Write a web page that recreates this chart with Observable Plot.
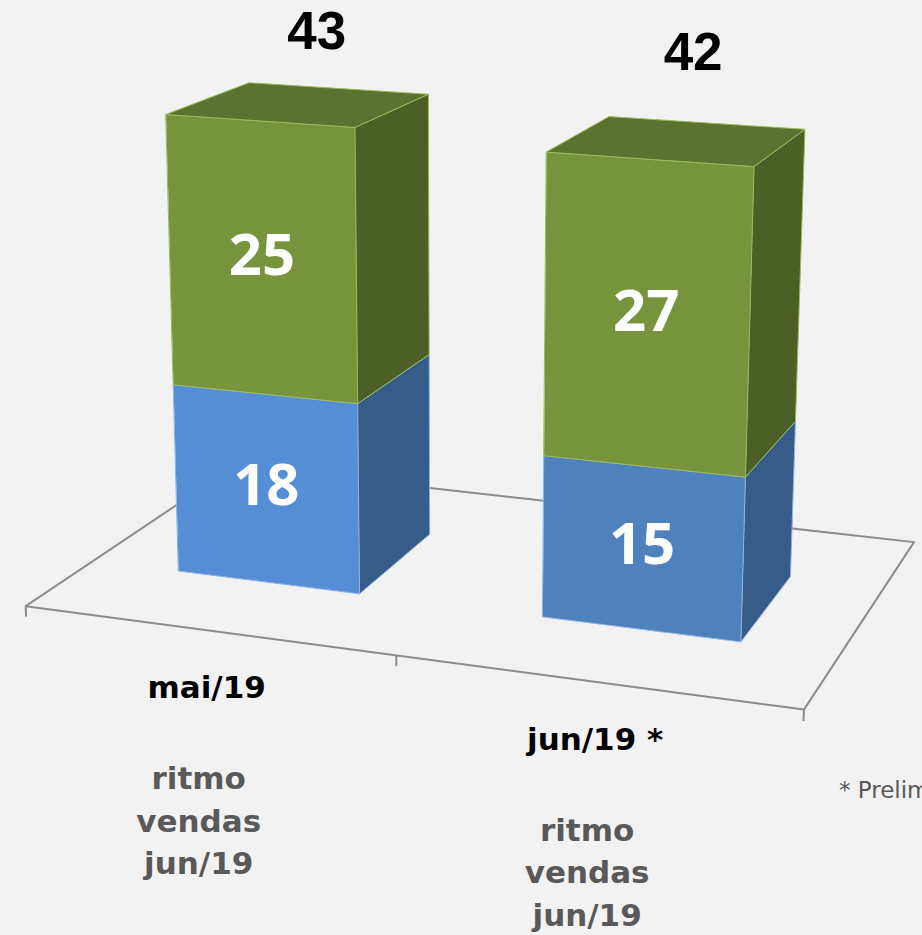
<!DOCTYPE html>
<html><head><meta charset="utf-8">
<script src="https://cdn.jsdelivr.net/npm/d3@7"></script>
<script src="https://cdn.jsdelivr.net/npm/@observablehq/plot@0.6"></script>
<style>body{margin:0;background:#f2f2f2;}</style>
</head><body><div id="chart"></div>
<script>
// ---- data ----
const categories = ["mai/19", "jun/19 *"];
const subLabels = ["ritmo\nvendas\njun/19", "ritmo\nvendas\njun/19"];
const blueValues = [18, 15];
const greenValues = [25, 27];
const totals = [43, 42];
const footnote = "* Preliminar";

// ---- 3D layout (world: X = category axis, Y = value, Z = depth) ----
const barWidth = 0.508, barZ0 = 0.295, barZ1 = 0.695, floorDepth = 1;
// camera (perspective) matrix: homogeneous screen = CAM · [X, Y, Z, 1]
const CAM = [
  [352.5385, -0.4748911, 246.3599, 25.18945],
  [19.42113, -11.11780, -65.47847, 605.6698],
  [-0.04553750, -0.001032869, 0.1601402, 1]
];
function project(X, Y, Z) {
  const h = CAM.map(r => r[0] * X + r[1] * Y + r[2] * Z + r[3]);
  return [h[0] / h[2], h[1] / h[2]];
}

// ---- styles ----
const blueFront = ["#558ed5", "#4f81bd"];
const style = {
  blue: {side: "#375c89", top: "#4a77b0", edge: "#8db3e2"},
  green: {front: "#77933c", side: "#4b5f27", top: "#5c7230", edge: "#9bbb59"}
};

// ---- build faces ----
const faces = [];
let fid = 0;
function face(pts, fill, stroke) {
  fid++;
  for (const q of pts) { const [u, v] = project(...q); faces.push({id: fid, u, v, fill, stroke}); }
}
categories.forEach((cat, i) => {
  const c = i + 0.5, xa = c - barWidth / 2, xb = c + barWidth / 2;
  const segs = [
    {y0: 0, y1: blueValues[i], front: blueFront[i], ...style.blue},
    {y0: blueValues[i], y1: blueValues[i] + greenValues[i], ...style.green}
  ];
  segs.forEach((s, j) => {
    face([[xb, s.y0, barZ0], [xb, s.y0, barZ1], [xb, s.y1, barZ1], [xb, s.y1, barZ0]], s.side, s.edge);
    face([[xa, s.y0, barZ0], [xb, s.y0, barZ0], [xb, s.y1, barZ0], [xa, s.y1, barZ0]], s.front, s.edge);
    if (j === segs.length - 1)
      face([[xa, s.y1, barZ0], [xb, s.y1, barZ0], [xb, s.y1, barZ1], [xa, s.y1, barZ1]], s.top, s.edge);
  });
});
const nCat = categories.length;
const floor = [[0, 0, 0], [nCat, 0, 0], [nCat, 0, floorDepth], [0, 0, floorDepth]]
  .map(q => { const [u, v] = project(...q); return {u, v}; });
const ticks = d3.range(nCat + 1).map(x => {
  const a = project(x, 0, 0), b = project(x, -1, 0);
  return {u1: a[0], v1: a[1], u2: b[0], v2: b[1]};
});
const segLabels = [];
categories.forEach((cat, i) => {
  const c = i + 0.5;
  [[0, blueValues[i]], [blueValues[i], blueValues[i] + greenValues[i]]].forEach(([a, b]) => {
    const [u, v] = project(c, (a + b) / 2, barZ0);
    segLabels.push({u, v, t: String(b - a)});
  });
});
const labelY = d3.max(totals) + 6, labelZ = barZ0 + 0.73 * (barZ1 - barZ0);
const totRows = categories.map((cat, i) => {
  const [u, v] = project(i + 0.5, labelY, labelZ);
  return {u, v, t: String(totals[i])};
});
const catRows = categories.map((cat, i) => {
  const [u, v] = project(i + 0.5, 0, 0);
  return {u, v, t: cat, s: subLabels[i]};
});
const fn = project(nCat, 0, 0);

const chart = Plot.plot({
  width: 922, height: 935, margin: 0,
  x: {type: "linear", domain: [0, 922], range: [0, 922], axis: null},
  y: {type: "linear", domain: [0, 935], range: [0, 935], axis: null},
  color: {type: "identity"},
  style: {background: "#f2f2f2", overflow: "hidden"},
  marks: [
    Plot.line(floor, {x: "u", y: "v", curve: "linear-closed", stroke: "#8c8c8c", strokeWidth: 2, fill: "none"}),
    Plot.link(ticks, {x1: "u1", y1: "v1", x2: "u2", y2: "v2", stroke: "#8c8c8c", strokeWidth: 2}),
    Plot.line(faces, {x: "u", y: "v", z: "id", fill: "fill", stroke: "stroke", strokeWidth: 1, curve: "linear-closed"}),
    Plot.text(segLabels, {x: "u", y: "v", text: "t", dy: -3, fill: "white", fontSize: 58, fontWeight: "bold", fontFamily: "Open Sans"}),
    Plot.text(totRows, {x: "u", y: "v", text: "t", fill: "black", fontSize: 53, fontWeight: "bold", fontFamily: "Liberation Sans"}),
    Plot.text(catRows, {x: "u", y: "v", text: "t", dy: 58, fill: "black", fontSize: 31, fontWeight: "bold", fontFamily: "DejaVu Sans"}),
    Plot.text(catRows, {x: "u", y: "v", text: "s", dx: -8, dy: 129, lineAnchor: "top", lineHeight: 1.37, fill: "#595959", fontSize: 31, fontWeight: "bold", fontFamily: "DejaVu Sans"}),
    Plot.text([{u: fn[0], v: fn[1], t: footnote}], {x: "u", y: "v", text: "t", dx: 35, dy: 81, textAnchor: "start", fill: "#595959", fontSize: 23, fontFamily: "DejaVu Sans"})
  ]
});
document.getElementById("chart").appendChild(chart);
</script></body></html>
